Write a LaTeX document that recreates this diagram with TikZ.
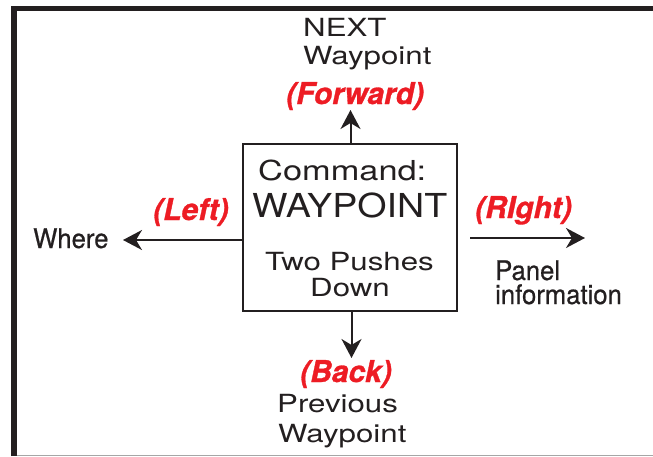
\documentclass[tikz,border=0pt]{standalone}
\usepackage{fontspec}
\setmainfont{TeX Gyre Heros}
\newfontfamily\wideface[FakeStretch=1.25]{TeX Gyre Heros}
\newfontfamily\capsface[FakeStretch=1.14]{TeX Gyre Heros}
\newfontfamily\condface[FakeStretch=0.95,FakeBold=0.6]{TeX Gyre Heros}
\newfontfamily\redface[FakeBold=1]{TeX Gyre Heros}
\usetikzlibrary{arrows.meta}
\definecolor{ink}{HTML}{231F20}
\definecolor{redlbl}{HTML}{ED1C24}
\tikzset{
  arr/.style={-{Stealth[length=19pt,width=20pt,inset=6pt]},line width=2pt,ink},
  wide/.style={anchor=base west,inner sep=0pt,text=ink,font=\wideface\fontsize{25}{28}\selectfont},
  plain/.style={anchor=base west,inner sep=0pt,text=ink,font=\condface\fontsize{27}{20}\selectfont},
  dirlbl/.style={anchor=base west,inner sep=0pt,text=redlbl,font=\redface\bfseries\itshape\fontsize{30}{30}\selectfont},
}
\begin{document}
\begin{tikzpicture}[x=1pt,y=-1pt]
\useasboundingbox (0,0) rectangle (653,456);

%%%frame
\draw[ink,line width=5.4pt,line join=miter] (14,456)--(14,8.35)--(653,8.35);
\draw[gray!70,line width=1pt] (16.7,455)--(653,455);

%%%command box
\node[draw=ink,line width=2pt,minimum width=213.7pt,minimum height=167pt,inner sep=0pt] (cmd) at (349.85,227.2) {};
\node[wide,font=\wideface\fontsize{27.5}{28}\selectfont] (cmdtitle) at (258,180) {Command:};
\node[anchor=base west,inner sep=0pt,text=ink,font=\capsface\fontsize{33}{33}\selectfont] (cmdname) at (252,217) {WAYPOINT};
\node[wide] (pusha) at (265,270) {Two Pushes};
\node[wide] (pushb) at (310,296.7) {Down};

%%%forward
\node[wide] (nexta) at (303,36) {NEXT};
\node[wide] (nextb) at (303,64) {Waypoint};
\node[dirlbl] (fwd) at (286,104) {(Forward)};
\coordinate (fwdtip) at (350.5,110);
\draw[arr] (cmd.north -| fwdtip)--(fwdtip);

%%%back
\node[dirlbl] (back) at (300,382) {(Back)};
\node[wide] (preva) at (277,412) {Previous};
\node[wide] (prevb) at (278,442) {Waypoint};
\coordinate (backtip) at (351.5,358);
\draw[arr] (cmd.south -| backtip)--(backtip);

%%%left
\node[dirlbl] (left) at (153,220) {(Left)};
\node[plain] (where) at (33,248) {Where};
\coordinate (lefttip) at (123,240);
\draw[arr] (cmd.west |- lefttip)--(lefttip);

%%%right
\node[dirlbl] (right) at (475,218) {(RIght)};
\node[plain] (panela) at (495,280) {Panel};
\node[plain] (panelb) at (495,304) {information};
\coordinate (rightfrom) at (470,238);
\coordinate (righttip) at (585,238);
\draw[arr] (rightfrom)--(righttip);

\end{tikzpicture}
\end{document}
